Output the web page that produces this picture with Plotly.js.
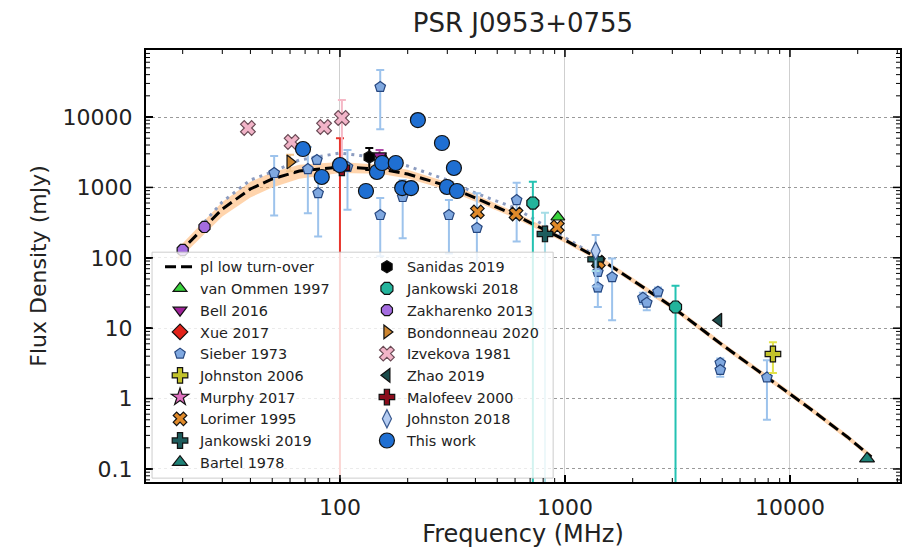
<!DOCTYPE html>
<html>
<head>
<meta charset="utf-8">
<script src="https://cdn.plot.ly/plotly-3.0.1.min.js"></script>
<style>html,body{margin:0;padding:0;background:#fff}#chart{width:912px;height:553px}</style>
</head>
<body>
<div id="chart"></div>
<script>
// ---- model curves ----
const modelFreq  = [19, 25, 30, 40, 50, 66, 100, 150, 200, 300, 400, 600, 1000, 1500, 2000, 3000, 5000, 8000, 12000, 18000, 23000];
const modelFlux  = [113, 274, 493, 949, 1316, 1709, 1949, 1826, 1549, 1047, 707, 405, 179, 87, 48, 20, 5.8, 1.96, 0.76, 0.285, 0.148];
const bandUpper  = [135, 340, 620, 1200, 1640, 2100, 2300, 2100, 1780, 1180, 790, 448, 195, 95, 52, 21.8, 6.3, 2.13, 0.83, 0.31, 0.16];
const bandLower  = [92, 220, 385, 720, 1000, 1330, 1600, 1560, 1340, 920, 628, 365, 164, 80, 44, 18.3, 5.3, 1.79, 0.7, 0.26, 0.136];
const dottedFreq = [25, 30, 40, 50, 66, 100, 150, 200, 300, 400, 600, 1000, 1500];
const dottedFlux = [323, 621, 1274, 1656, 2451, 3083, 2616, 2014, 1274, 832, 510, 197, 90];

// ---- data sets ----
const vanOmmenFreq = [930];  const vanOmmenFlux = [380];
const bellFreq = [150];      const bellFlux = [2800];    const bellErr = [600];
const xueFreq = [100];       const xueFlux = [2000];     const xueErr = [3000];
const sieberFreq = [51, 72, 79, 80, 108, 151, 151, 190, 305, 406, 610, 1400, 1400, 1620, 2220, 2310, 2590, 4900, 4900, 7900];
const sieberFlux = [1600, 1820, 2450, 830, 1950, 26700, 405, 730, 405, 265, 660, 63, 38, 53, 27, 23, 33, 3.2, 2.55, 2.0];
const sieberErrUp   = [1200, 1930, 300, 630, 1450, 20000, 300, 540, 260, 560, 500, 30, 18, 45, 5, 5, 5, 0.5, 0.5, 1.5];
const sieberErrDown = [1200, 1390, 300, 630, 1470, 20000, 300, 540, 290, 180, 490, 30, 18, 40, 5, 5, 5, 0.5, 0.5, 1.5];
const johnston06Freq = [8400]; const johnston06Flux = [4.3]; const johnston06Err = [2];
const murphyFreq = [160];    const murphyFlux = [2200];
const lorimerFreq = [408, 606, 925, 1408]; const lorimerFlux = [448, 419, 274, 87];
const jank19Freq = [815, 1369]; const jank19Flux = [218, 95]; const jank19Err = [220, 30];
const bartelFreq = [22000];  const bartelFlux = [0.14];
const sanidasFreq = [135];   const sanidasFlux = [2700]; const sanidasErr = [930];
const jank18Freq = [720, 3100]; const jank18Flux = [600, 20]; const jank18Err = [600, 20];
const zakhFreq = [20, 25];   const zakhFlux = [129, 274];
const bondFreq = [60];       const bondFlux = [2300];    const bondErr = [600];
const izvFreq = [39, 61, 85, 102]; const izvFlux = [6980, 4415, 7210, 9680]; const izvErr = [600, 400, 700, 7700];
const zhaoFreq = [4820];     const zhaoFlux = [13];
const malofeevFreq = [102];  const malofeevFlux = [1900];
const johnston18Freq = [1369]; const johnston18Flux = [125]; const johnston18Err = [86];
const thisWorkFreq = [68.5, 83, 100, 130.5, 146, 154, 177, 189, 207, 222, 284, 321, 299, 331];
const thisWorkFlux = [3510, 1406, 2080, 889, 1656, 2222, 2222, 979, 979, 9060, 4274, 1888, 1014, 889];

const yTickVals = [0.1, 1, 10, 100, 1000, 10000];
const yTickText = ['0.1', '1', '10', '100', '1000', '10000'];
const xTickVals = [100, 1000, 10000];
const xTickText = ['100', '1000', '10000'];

const FONT = 'DejaVu Sans, Liberation Sans, sans-serif';
const EDGE = {color: '#111', width: 1.2};
const X_RANGE = [1.138, 4.489];
const Y_RANGE = [-1.185, 4.952];
const PLOT_W = 912 - 146 - 12;   // plot area size in px (from the margins)
const PLOT_H = 553 - 50 - 71;

// minor tick values (2..9 x each decade) inside a log range
function minorTicks(range) {
  const v = [];
  for (let e = Math.floor(range[0]); e <= Math.ceil(range[1]); e++)
    for (let m = 2; m <= 9; m++) {
      const t = m * Math.pow(10, e);
      if (Math.log10(t) > range[0] && Math.log10(t) < range[1]) v.push(t);
    }
  return v;
}

// inward tick marks on all four frame sides, placed through the axis scales
function tickShapes() {
  const s = [];
  const add = (vals, len, w) => {
    vals.forEach(v => {
      s.push({type: 'line', xref: 'x', yref: 'paper', x0: v, x1: v, y0: 0, y1: len / PLOT_H, line: {color: '#000', width: w}, layer: 'above'});
      s.push({type: 'line', xref: 'x', yref: 'paper', x0: v, x1: v, y0: 1, y1: 1 - len / PLOT_H, line: {color: '#000', width: w}, layer: 'above'});
    });
  };
  const addY = (vals, len, w) => {
    vals.forEach(v => {
      s.push({type: 'line', xref: 'paper', yref: 'y', y0: v, y1: v, x0: 0, x1: len / PLOT_W, line: {color: '#000', width: w}, layer: 'above'});
      s.push({type: 'line', xref: 'paper', yref: 'y', y0: v, y1: v, x0: 1, x1: 1 - len / PLOT_W, line: {color: '#000', width: w}, layer: 'above'});
    });
  };
  add(xTickVals, 7, 1.5);
  add(minorTicks(X_RANGE), 4, 1);
  addY(yTickVals, 7, 1.5);
  addY(minorTicks(Y_RANGE), 4, 1);
  return s;
}

function pts(name, x, y, symbol, color, size, legend, err, errColor, extra) {
  const t = {
    type: 'scatter', mode: 'markers', name: name, x: x, y: y, legend: legend,
    marker: Object.assign({symbol: symbol, color: color, size: size, line: EDGE}, extra || {})
  };
  if (err) {
    t.error_y = Object.assign({type: 'data', color: errColor, thickness: 2, width: 4, visible: true}, err);
  }
  return t;
}

const traces = [
  {type: 'scatter', mode: 'lines', x: modelFreq, y: bandLower, line: {width: 0, color: 'rgba(0,0,0,0)'}, showlegend: false, hoverinfo: 'skip'},
  {type: 'scatter', mode: 'lines', x: modelFreq, y: bandUpper, fill: 'tonexty', fillcolor: 'rgba(255,160,70,0.45)', line: {width: 0, color: 'rgba(0,0,0,0)'}, showlegend: false, hoverinfo: 'skip'},
  {type: 'scatter', mode: 'lines', x: dottedFreq, y: dottedFlux, line: {color: '#8c9cc0', width: 3, dash: '3px,5px'}, showlegend: false},
  {type: 'scatter', mode: 'lines', name: 'pl low turn-over', x: modelFreq, y: modelFlux, legend: 'legend', line: {color: '#000', width: 3, dash: '11px,5px'}},
  pts('van Ommen 1997', vanOmmenFreq, vanOmmenFlux, 'triangle-up', '#39d43c', 12, 'legend'),
  pts('Bell 2016', bellFreq, bellFlux, 'triangle-down', '#a0229a', 12, 'legend', {array: bellErr}, '#b04aa8'),
  pts('Xue 2017', xueFreq, xueFlux, 'diamond', '#e2231a', 12, 'legend', {array: xueErr}, '#e8352c'),
  pts('Sieber 1973', sieberFreq, sieberFlux, 'pentagon', '#7fa8e0', 11, 'legend', {symmetric: false, array: sieberErrUp, arrayminus: sieberErrDown}, '#9dc3ec', {line: {color: '#27477f', width: 1.2}}),
  pts('Johnston 2006', johnston06Freq, johnston06Flux, 'cross', '#c2c22a', 13, 'legend', {array: johnston06Err}, '#e2e24a'),
  pts('Murphy 2017', murphyFreq, murphyFlux, 'star', '#e070c0', 13, 'legend'),
  pts('Lorimer 1995', lorimerFreq, lorimerFlux, 'x', '#e08a2a', 12, 'legend'),
  pts('Jankowski 2019', jank19Freq, jank19Flux, 'cross', '#1d5c5c', 13, 'legend', {array: jank19Err}, '#a6dde6'),
  pts('Bartel 1978', bartelFreq, bartelFlux, 'triangle-up', '#1f8277', 13, 'legend'),
  pts('Sanidas 2019', sanidasFreq, sanidasFlux, 'hexagon', '#000000', 12, 'legend2', {array: sanidasErr}, '#000'),
  pts('Jankowski 2018', jank18Freq, jank18Flux, 'octagon', '#23b49c', 13, 'legend2', {array: jank18Err}, '#24c2b2'),
  pts('Zakharenko 2013', zakhFreq, zakhFlux, 'octagon', '#a46ce0', 12, 'legend2'),
  pts('Bondonneau 2020', bondFreq, bondFlux, 'triangle-right', '#cc8530', 12, 'legend2', {array: bondErr}, '#f2c690'),
  pts('Izvekova 1981', izvFreq, izvFlux, 'x', '#f2b4c8', 13, 'legend2', {array: izvErr}, '#f5b8c6', {line: {color: '#6a4a55', width: 1.2}}),
  pts('Zhao 2019', zhaoFreq, zhaoFlux, 'triangle-left', '#1c4d4d', 12, 'legend2'),
  pts('Malofeev 2000', malofeevFreq, malofeevFlux, 'cross', '#8a0c1c', 13, 'legend2'),
  pts('Johnston 2018', johnston18Freq, johnston18Flux, 'diamond-tall', '#b4ccf2', 13, 'legend2', {array: johnston18Err}, '#9dc3ec', {line: {color: '#3a5a90', width: 1.2}}),
  pts('This work', thisWorkFreq, thisWorkFlux, 'circle', '#1f6fd2', 15, 'legend2')
];

const legendCommon = {xanchor: 'left', yanchor: 'top', bgcolor: 'rgba(0,0,0,0)', borderwidth: 0,
  font: {family: FONT, size: 14.4, color: '#222'}, tracegroupgap: 0, traceorder: 'normal'};

const layout = {
  width: 912, height: 553,
  margin: {l: 146, r: 12, t: 50, b: 71},
  paper_bgcolor: '#fff', plot_bgcolor: '#fff',
  font: {family: FONT, color: '#222'},
  title: {text: 'PSR J0953+0755', font: {family: FONT, size: 26, color: '#222'}, xref: 'paper', x: 0.5, xanchor: 'center', yref: 'container', y: 0.958, yanchor: 'middle'},
  xaxis: {
    type: 'log', range: X_RANGE, showline: true, linecolor: '#000', linewidth: 2, mirror: true,
    ticks: 'inside', ticklen: 7, tickwidth: 1.5, tickcolor: '#000', tickmode: 'array',
    tickvals: xTickVals, ticktext: xTickText, zeroline: false,
    tickfont: {family: FONT, size: 22, color: '#222'},
    showgrid: true, gridcolor: '#cfcfcf', gridwidth: 1,
    title: {text: 'Frequency (MHz)', font: {family: FONT, size: 24, color: '#222'}, standoff: 5},
    ticklabelstandoff: 5
  },
  yaxis: {
    type: 'log', range: Y_RANGE, showline: true, linecolor: '#000', linewidth: 2, mirror: true,
    ticks: 'inside', ticklen: 7, tickwidth: 1.5, tickcolor: '#000', tickmode: 'array',
    tickvals: yTickVals, ticktext: yTickText, zeroline: false,
    tickfont: {family: FONT, size: 22, color: '#222'},
    showgrid: true, gridcolor: '#9a9a9a', gridwidth: 1, griddash: 'dot',
    title: {text: 'Flux Density (mJy)', font: {family: FONT, size: 22, color: '#222'}, standoff: 10},
    ticklabelstandoff: 7
  },
  legend: Object.assign({x: 0.0186, y: 0.535}, legendCommon),
  legend2: Object.assign({x: 0.293, y: 0.535}, legendCommon),
  shapes: [{type: 'rect', xref: 'paper', yref: 'paper', x0: 0.008, x1: 0.54, y0: 0.009, y1: 0.532,
            fillcolor: 'rgba(255,255,255,0.8)', line: {color: 'rgba(200,200,200,0.9)', width: 1}, layer: 'above'}]
            .concat(tickShapes()),
  showlegend: true
};

Plotly.newPlot('chart', traces, layout, {displayModeBar: false, staticPlot: true});
</script>
</body>
</html>
